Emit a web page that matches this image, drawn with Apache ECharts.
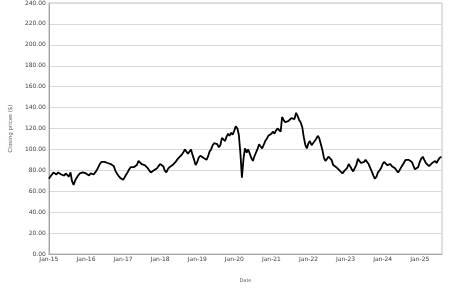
<!DOCTYPE html>
<html>
<head>
<meta charset="utf-8">
<script src="https://cdn.jsdelivr.net/npm/echarts@6/dist/echarts.min.js"></script>
<style>html,body{margin:0;padding:0;background:#fff}#c{width:452px;height:288px}</style>
</head>
<body>
<div id="c"></div>
<script>
// Semi-monthly sample dates (1st and 15th of each month), Jan 2015 - Aug 2025
const years = [2015,2016,2017,2018,2019,2020,2021,2022,2023,2024,2025];
// Closing prices, two per month
const prices2015 = [72,74,76,78,77,76,78,77,76,77,75,77,76,74,78,70,66,70,73,75,77,76,78,77];
const prices2016 = [77,76,75,77,77,76,78,80,83,86,88,89,88,88,87,87,86,86,84,80,77,75,73,72];
const prices2017 = [71,73,76,78,81,83,84,83,82,85,89,88,86,87,85,84,82,80,78,79,80,81,82,84];
const prices2018 = [86,87,84,80,78,81,83,84,85,86,88,90,92,93,95,97,100,98,96,97,100,95,90,85];
const prices2019 = [88,92,94,93,92,91,90,93,98,100,104,106,107,105,102,104,111,110,108,112,115,113,116,114];
const prices2020 = [118,122,120,114,95,73,92,101,97,100,96,92,89,93,97,100,105,103,101,104,108,110,113,112];
const prices2021 = [115,117,115,118,120,119,117,131,128,126,125,127,128,130,131,129,135,132,128,126,121,112,104,101];
const prices2022 = [106,108,104,105,108,110,113,111,105,100,92,89,91,93,94,90,85,86,83,82,80,79,77,79];
const prices2023 = [80,82,86,84,81,79,80,85,91,89,87,88,88,90,89,86,82,79,75,72,74,78,80,82];
const prices2024 = [86,88,87,85,85,86,84,85,82,80,78,80,83,85,88,90,91,90,89,88,84,81,80,83];
const prices2025 = [88,91,93,90,87,86,84,85,87,88,89,87,90,92,93];
const yTicks = [0,20,40,60,80,100,120,140,160,180,200,220,240];

const allPrices = [prices2015,prices2016,prices2017,prices2018,prices2019,prices2020,prices2021,prices2022,prices2023,prices2024,prices2025];
const data = [];
allPrices.forEach((arr, yi) => {
  arr.forEach((v, i) => {
    const month = Math.floor(i / 2);
    const day = (i % 2) ? 15 : 1;
    const t = years[yi] + (month + (day - 1) / 30.5) / 12;
    data.push([t, v]);
  });
});

const chart = echarts.init(document.getElementById('c'), null, {renderer: 'canvas'});
const font = 'DejaVu Sans';
chart.setOption({
  animation: false,
  backgroundColor: '#fff',
  grid: {left: 35, right: 10, top: 3, bottom: 34, show: true, borderColor: '#bfbfbf', borderWidth: 1, containLabel: false},
  xAxis: {
    type: 'value', min: 2015, max: 2025.6, interval: 1,
    name: 'Date', nameLocation: 'middle', nameGap: 24,
    nameTextStyle: {fontFamily: font, fontSize: 5, color: '#595959'},
    axisLine: {show: true, lineStyle: {color: '#a6a6a6', width: 1}},
    axisTick: {show: false},
    splitLine: {show: false},
    axisLabel: {showMaxLabel: false, showMinLabel: true, margin: 2, fontFamily: font, fontSize: 6, color: '#404040',
      formatter: v => 'Jan-' + String(Math.round(v) % 100).padStart(2, '0')}
  },
  yAxis: {
    type: 'value', min: yTicks[0], max: yTicks[yTicks.length - 1], interval: 20,
    name: 'Closing prices ($)', nameLocation: 'middle', nameGap: 27,
    nameTextStyle: {fontFamily: font, fontSize: 5.5, color: '#595959'},
    axisLine: {show: true, lineStyle: {color: '#a6a6a6', width: 1}},
    axisTick: {show: false},
    splitLine: {show: true, lineStyle: {color: '#d9d9d9', width: 1}},
    axisLabel: {margin: 3, fontFamily: font, fontSize: 6, color: '#404040', formatter: v => v.toFixed(2)}
  },
  series: [{
    type: 'line', data: data, showSymbol: false, symbol: 'none',
    lineStyle: {color: '#000', width: 1.8}
  }]
});
</script>
</body>
</html>
